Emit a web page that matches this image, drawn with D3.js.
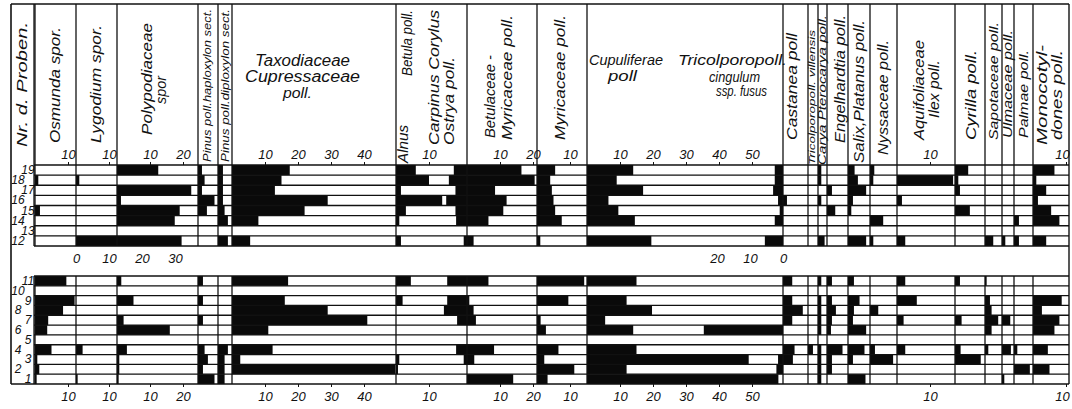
<!DOCTYPE html>
<html>
<head>
<meta charset="utf-8">
<script src="https://cdn.jsdelivr.net/npm/d3@7"></script>
<style>
  body { margin: 0; background: #fff; }
  text { font-family: "Liberation Sans", Arial, sans-serif; font-style: italic; fill: #111; }
</style>
</head>
<body>
<div id="chart"></div>
<script>
// samples, top block then lower block (order as drawn, top to bottom)
const samplesUpper = [19, 18, 17, 16, 15, 14, 13, 12];
const samplesLower = [11, 10, 9, 8, 7, 6, 5, 4, 3, 2, 1];

// percentages per sample, order 19 ... 1
const osmunda      = [0, 1, 0, 0, 1.5, 0, 0, 0,   9.5, 0, 12, 8.5, 4, 3.7, 0, 5, 0.7, 1.3, 0.5];
const lygodium     = [0, 1, 0, 0, 0, 0, 0, 32,    0, 0, 0, 0, 0, 0, 0, 2, 0, 0, 0.5];
const polypodiac   = [12.5, 0, 22.5, 1.2, 19, 17.5, 0, 0,   1.3, 0, 5, 0, 2, 16, 0, 3, 0.7, 0.7, 0.5];
const pinusHaplo   = [1.2, 2, 1.2, 5, 2.7, 0, 0, 0,   1.5, 0, 1.5, 0, 1.5, 0, 0, 2, 3, 1.5, 5];
const pinusDiplo   = [1.5, 1.5, 1.5, 1.5, 2, 3, 0, 3,   0, 0, 0, 0, 0, 0, 0, 3, 2, 2, 2];
const taxodiac     = [17.5, 15, 13, 29, 22, 8, 0, 5.5,   17, 0, 16, 29, 41, 11, 0, 12.3, 2.5, 49.5, 0];
const alnusBetula  = [6, 10, 1.5, 14, 3, 1, 0, 1.5,   4.5, 0, 2, 0, 0, 0, 0, 0, 1, 0.6, 0];
const carpinus     = [4, 5.5, 3.5, 6.3, 3.5, 3.3, 0, 1,   6, 0, 6, 7, 3, 0, 0, 3.3, 1, 0, 0];
const betulMyric   = [16.5, 20.5, 8.5, 12, 11, 6.5, 0, 2,   6.5, 0, 0.7, 2, 2.7, 0, 0, 8.2, 2.2, 0, 14];
const myricaceae   = [5.5, 4, 4.5, 5, 5.5, 7.5, 0, 1,   14.3, 0, 9.5, 0, 1.1, 2.7, 0, 6.5, 2.2, 11.3, 3.2];
const cupuliferae  = [14, 9, 17, 6.5, 9.5, 14.5, 0, 19.5,   15, 0, 12, 19.7, 5.5, 14, 0, 15, 49, 12, 58];
const tricolpFusus = [2.5, 2.5, 3, 1.5, 1, 2.5, 0, 5.5,   0, 0, 0, 0, 0, 24, 0, 0, 1.5, 2, 0];
const castanea     = [0, 0, 0, 1.2, 0, 0, 0, 0,   2.8, 0, 2.8, 6, 2.8, 0, 0, 3.5, 3, 0, 0];
const villensis    = [0, 0, 0, 0, 0, 0, 0, 0,   0, 0, 0, 0, 0, 0, 0, 1.5, 0, 0, 0];
const carya        = [1, 1, 0, 1, 0, 0, 0, 2,   1, 0, 1, 1, 1, 1, 0, 1, 1, 1, 1];
const engelhardtia = [0, 0, 1.5, 0, 2.5, 0, 0, 0,   1.5, 0, 1.5, 2.7, 1.5, 1.2, 0, 4.7, 1.5, 1.5, 0];
const salix        = [2, 3, 5.5, 1.5, 1, 0, 0, 5.5,   1.8, 0, 3.5, 1.8, 1.5, 5.5, 0, 5, 1.5, 0, 5.3];
const nyssa        = [1.3, 1, 0, 0, 0, 4, 0, 1,   0, 0, 0, 2.5, 0, 0, 0, 1.5, 7, 0, 0];
const ilex         = [0, 17, 0, 1.5, 0, 0, 0, 2.5,   2.5, 0, 6, 0, 2, 0, 0, 2.5, 0, 0, 0];
const cyrilla      = [4, 1, 1.5, 0, 4.5, 0, 0, 0,   1.5, 0, 0, 0, 2, 0, 0, 1.7, 7.8, 0, 0];
const sapotaceae   = [0, 0, 0, 0, 0, 0, 0, 2.5,   0.5, 0, 1.5, 2, 4, 2, 0, 1, 0, 0, 0];
const ulmaceae     = [0, 0, 0, 0, 0, 0, 0, 1,   0, 0, 0, 0, 2.5, 0, 0, 2.7, 0, 0, 0.7];
const palmae       = [0, 0, 0, 0, 0, 1.5, 0, 1.5,   0, 0, 0, 0, 0, 0, 0, 1, 0, 4.8, 0];
const monocot      = [6.5, 1, 4, 1.5, 5.5, 8, 0, 4,   0, 0, 8.7, 2.7, 8, 6.5, 0, 4.5, 0, 5, 0];

// tick labels
const ticks = {
  osmunda: [10], lygodium: [10], polypod: [10, 20], taxod: [10, 20, 30, 40],
  alnus: [10], betulac: [10, 20], myric: [10], cupul: [10, 20, 30, 40, 50],
  ilex: [10], mono: [10]
};
const gapTicksLygodium = [0, 10, 20, 30];
const gapTicksTricolp = [0, 10, 20];

// ---------- layout ----------
const W = 1072, H = 409;
const pxPerUnit = 3.3;
const edges = [35, 76, 117, 198, 218, 232, 396, 467, 537, 587, 783, 808, 818, 827, 848, 870, 897, 955, 985, 1002, 1014, 1033, 1069];
const frameTop = 4, headBottom = 165, upBottom = 246, loTop = 276, loBottom = 384;
const frameLeft = 11, numRight = 34, frameRight = 1069;

const allSamples = samplesUpper.concat(samplesLower);
const yUp = d3.scaleBand().domain(samplesUpper).range([headBottom, upBottom]);
const yLo = d3.scaleBand().domain(samplesLower).range([loTop, loBottom]);
const yOf = s => samplesUpper.includes(s) ? yUp : yLo;

// one linear scale per column, 0 at left edge (or right edge for the reversed side)
function colScale(i, fromRight) {
  const x0 = edges[i], x1 = edges[i + 1];
  const max = (x1 - x0) / pxPerUnit;
  return d3.scaleLinear().domain([0, max]).range(fromRight ? [x1, x0] : [x0, x1]);
}

const series = [
  { v: osmunda, col: 0 }, { v: lygodium, col: 1 }, { v: polypodiac, col: 2 },
  { v: pinusHaplo, col: 3 }, { v: pinusDiplo, col: 4 }, { v: taxodiac, col: 5 },
  { v: alnusBetula, col: 6 }, { v: carpinus, col: 6, right: true },
  { v: betulMyric, col: 7 }, { v: myricaceae, col: 8 },
  { v: cupuliferae, col: 9 }, { v: tricolpFusus, col: 9, right: true },
  { v: castanea, col: 10 }, { v: villensis, col: 11 }, { v: carya, col: 12 },
  { v: engelhardtia, col: 13 }, { v: salix, col: 14 }, { v: nyssa, col: 15 },
  { v: ilex, col: 16 }, { v: cyrilla, col: 17 }, { v: sapotaceae, col: 18 },
  { v: ulmaceae, col: 19 }, { v: palmae, col: 20 }, { v: monocot, col: 21 }
];

const svg = d3.select("#chart").append("svg")
  .attr("width", W).attr("height", H);
svg.append("rect").attr("width", W).attr("height", H).attr("fill", "#fff");

// bars
series.forEach(s => {
  const x = colScale(s.col, s.right);
  svg.append("g").selectAll("rect")
    .data(allSamples.map((smp, i) => ({ smp, val: s.v[i] })).filter(d => d.val > 0))
    .enter().append("rect")
    .attr("x", d => Math.min(x(0), x(d.val)))
    .attr("width", d => Math.abs(x(d.val) - x(0)))
    .attr("y", d => yOf(d.smp)(d.smp))
    .attr("height", d => yOf(d.smp).bandwidth())
    .attr("fill", "#0a0a0a");
});

// grid lines
const lines = svg.append("g").attr("stroke", "#111").attr("fill", "none");
function hline(y, x0, x1, w) { lines.append("line").attr("x1", x0).attr("x2", x1).attr("y1", y).attr("y2", y).attr("stroke-width", w || 1.3); }
function vline(x, y0, y1, w) { lines.append("line").attr("x1", x).attr("x2", x).attr("y1", y0).attr("y2", y1).attr("stroke-width", w || 1.3); }

samplesUpper.forEach(s => hline(yUp(s), numRight, frameRight));
hline(upBottom, numRight, frameRight);
samplesLower.forEach(s => hline(yLo(s), numRight, frameRight));
hline(frameTop, frameLeft, frameRight, 1.6);
hline(loBottom, frameLeft, frameRight, 1.6);
vline(frameLeft, frameTop, loBottom, 1.6);
vline(frameRight, frameTop, loBottom, 1.4);
vline(numRight, frameTop, upBottom);
vline(numRight, loTop, loBottom);
edges.slice(0, -1).forEach(x => {
  vline(x, frameTop, upBottom);
  vline(x, loTop, loBottom);
});

// axes
const axisCols = [
  [0, ticks.osmunda], [1, ticks.lygodium], [2, ticks.polypod], [5, ticks.taxod],
  [6, ticks.alnus], [7, ticks.betulac], [8, ticks.myric], [9, ticks.cupul],
  [16, ticks.ilex], [21, ticks.mono]
];
function styleAxis(g) {
  g.select(".domain").remove();
  g.selectAll("line").attr("stroke", "#111").attr("stroke-width", 1);
  g.selectAll("text").attr("font-size", 13).attr("font-family", null).attr("fill", "#111");
}
axisCols.forEach(([c, tv]) => {
  const x = colScale(c);
  const shift = c === 21 ? -4 : 0; // last label kept inside the frame
  svg.append("g").attr("transform", `translate(0,${headBottom})`)
    .call(d3.axisTop(x).tickValues(tv).tickSize(3).tickPadding(3).tickFormat(d3.format("d")))
    .call(styleAxis)
    .selectAll("text").attr("dx", shift);
  svg.append("g").attr("transform", `translate(0,${loBottom})`)
    .call(d3.axisBottom(x).tickValues(tv).tickSize(3).tickPadding(5).tickFormat(d3.format("d")))
    .call(styleAxis)
    .selectAll("text").attr("dx", shift);
});
// axes in the gap, for sample 12 bars
svg.append("g").attr("transform", `translate(0,${upBottom + 5})`)
  .call(d3.axisBottom(colScale(1)).tickValues(gapTicksLygodium).tickSize(0).tickPadding(3).tickFormat(d3.format("d")))
  .call(styleAxis);
svg.append("g").attr("transform", `translate(0,${upBottom + 5})`)
  .call(d3.axisBottom(colScale(9, true)).tickValues(gapTicksTricolp).tickSize(0).tickPadding(3).tickFormat(d3.format("d")))
  .call(styleAxis);

// sample numbers
svg.append("g").selectAll("text")
  .data(allSamples).enter().append("text")
  .attr("x", d => d % 2 ? 28 : 18)
  .attr("y", d => yOf(d)(d) + yOf(d).bandwidth() / 2 + 4)
  .attr("text-anchor", "middle")
  .attr("font-size", 12)
  .text(d => d);

// header labels (rotated): text, centre x, bottom y, top y, font size
const headRot = [
  ["Nr. d. Proben.", 22, 147, 22, 14],
  ["Osmunda spor.", 55, 143, 27, 15],
  ["Lygodium spor.", 96, 143, 25, 15],
  ["Polypodiaceae", 147, 135, 23, 15],
  ["spor", 161, 104, 76, 15],
  ["Pinus poll.haploxylon sect.", 207, 162, 9, 11],
  ["Pinus poll.diploxylon sect.", 225, 162, 9, 11],
  ["Alnus", 403, 163, 125, 15],
  ["Betula poll.", 407, 76, 10, 15],
  ["Carpinus Corylus", 434, 145, 10, 15],
  ["Ostrya poll.", 449, 145, 57, 15],
  ["Betulaceae -", 490, 138, 55, 15],
  ["Myricaceae poll.", 507, 140, 15, 15],
  ["Myricaceae poll.", 560, 140, 15, 15],
  ["Castanea poll", 792, 140, 33, 14],
  ["Tricolporopoll. villensis", 812, 165, 30, 9],
  ["Carya Pterocarya poll.", 822, 165, 15, 11],
  ["Engelhardtia poll.", 840, 143, 15, 14],
  ["Salix,Platanus poll.", 859, 163, 20, 14],
  ["Nyssaceae poll.", 883, 155, 40, 14],
  ["Aquifoliaceae", 919, 140, 40, 14],
  ["Ilex poll.", 934, 118, 60, 14],
  ["Cyrilla poll.", 971, 140, 50, 14],
  ["Sapotaceae poll.", 993, 140, 22, 13],
  ["Ulmaceae poll.", 1008, 138, 30, 12],
  ["Palmae poll.", 1023, 138, 50, 13],
  ["Monocotyl-", 1042, 145, 45, 14],
  ["dones poll.", 1057, 140, 50, 14]
];
svg.append("g").selectAll("text")
  .data(headRot).enter().append("text")
  .attr("transform", d => `translate(${d[1] + d[4] * 0.36},${d[2]}) rotate(-90)`)
  .attr("font-size", d => d[4])
  .attr("textLength", d => d[2] - d[3])
  .attr("lengthAdjust", "spacingAndGlyphs")
  .text(d => d[0]);

// header labels (horizontal): text, start x, baseline, end x, font size
const headHor = [
  ["Taxodiaceae", 255, 66, 350, 16],
  ["Cupressaceae", 245, 82, 360, 16],
  ["poll.", 283, 98, 312, 14],
  ["Cupuliferae", 589, 65, 663, 15],
  ["poll", 608, 81, 637, 14],
  ["Tricolporopoll.", 678, 65, 787, 15],
  ["cingulum", 709, 82, 760, 14],
  ["ssp. fusus", 716, 96, 767, 14]
];
svg.append("g").selectAll("text")
  .data(headHor).enter().append("text")
  .attr("x", d => d[1]).attr("y", d => d[2])
  .attr("font-size", d => d[4])
  .attr("textLength", d => d[3] - d[1])
  .attr("lengthAdjust", "spacingAndGlyphs")
  .text(d => d[0]);
</script>
</body>
</html>
